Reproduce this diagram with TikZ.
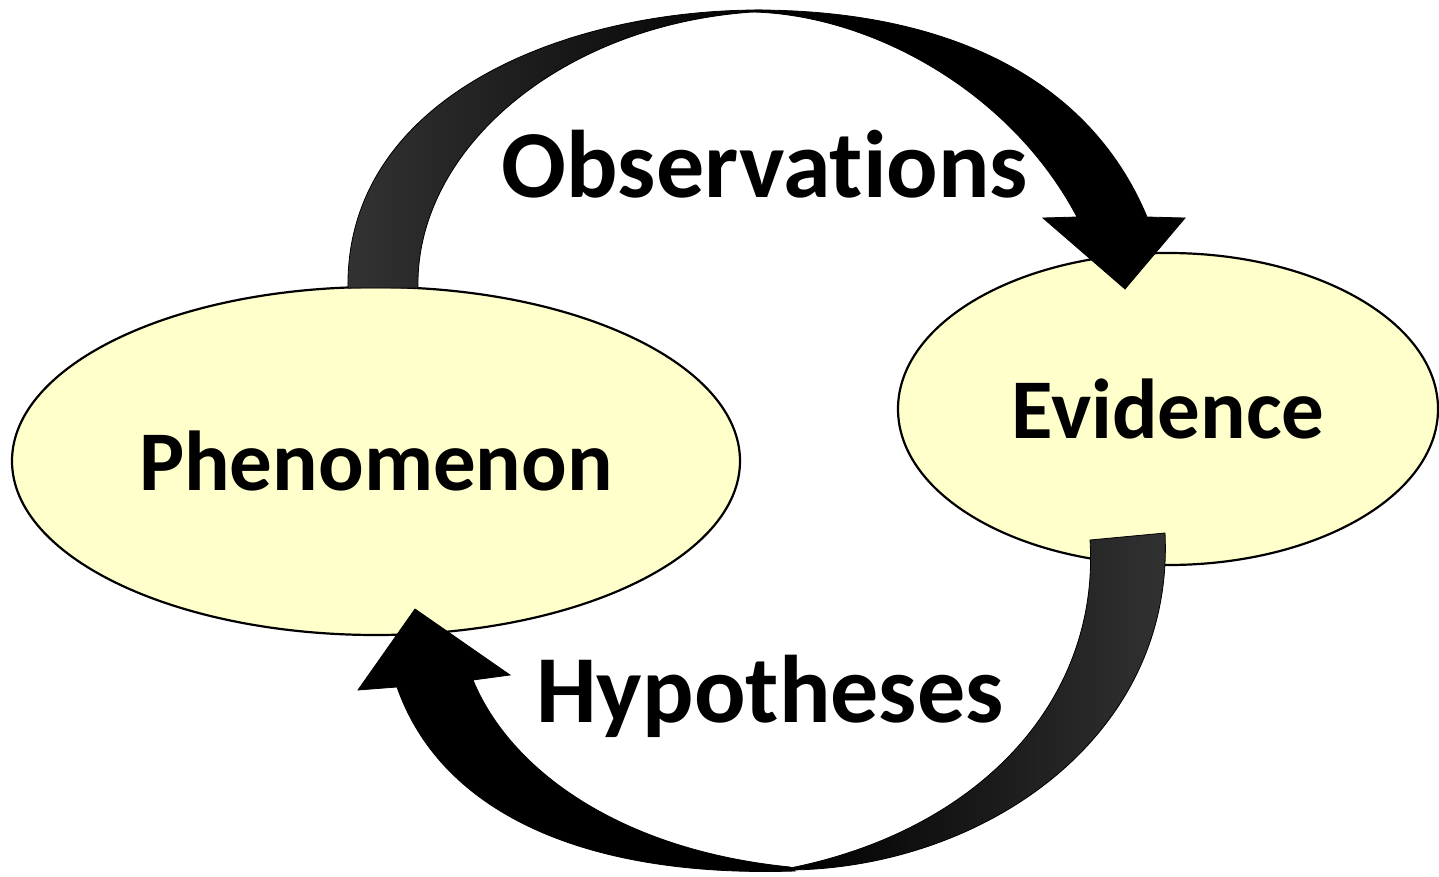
\documentclass[tikz,border=0pt]{standalone}
\usepackage{fontspec}
\setmainfont[Ligatures=NoCommon]{Carlito}
\usetikzlibrary{shapes.geometric}
\definecolor{paleyellow}{RGB}{255,255,204}
\begin{document}
\begin{tikzpicture}[x=0.5pt,y=-0.5pt,
  bubble/.style={ellipse, draw=black, line width=1.1pt, fill=paleyellow,
    inner sep=0pt, font=\fontsize{42.5}{48}\selectfont\bfseries},
  label/.style={inner sep=0pt, anchor=base, font=\fontsize{48}{54}\selectfont\bfseries},
  ribbon/.style={draw=black, line width=0.4pt},
  solidband/.style={fill=black, draw=black, line width=0.4pt}]
  \useasboundingbox (0,0) rectangle (1439,877);
  \fill[white] (0,0) rectangle (1439,877);

  % the two states
  \node[bubble, minimum width=364pt, minimum height=174pt] (phen) at (376,461) {Phenomenon};
  \node[bubble, minimum width=270pt, minimum height=156pt] (evid) at (1168,409) {Evidence};

  % upper curved arrow: rear band (shaded) and front band with head
  \path[ribbon, left color=black!80, right color=black]
    (348,288) .. controls (345,100) and (560,10) .. (760,10)
    -- (753,12) .. controls (560,25) and (415,150) .. (418,288) -- cycle;
  \path[solidband]
    (755,10) .. controls (950,10) and (1090,80) .. (1147,217)
    -- (1185,218) -- (1125,289) -- (1043,218) -- (1077,217)
    .. controls (1010,90) and (870,15) .. (753,12) -- cycle;

  % lower curved arrow: rear band (shaded) and front band with head
  \path[ribbon, left color=black, right color=black!80]
    (1165,533) .. controls (1175,740) and (980,868) .. (790,870)
    -- (790,868) .. controls (980,830) and (1100,700) .. (1090,540) -- cycle;
  \path[solidband]
    (795,871) .. controls (580,878) and (440,810) .. (397,687)
    -- (358,690) -- (415,609) -- (510,675) -- (473,680)
    .. controls (510,770) and (620,850) .. (790,867) -- cycle;

  % arrow captions
  \node[label] (obs) at (765,198) {Observations};
  \node[label] (hyp) at (770,722) {Hypotheses};
\end{tikzpicture}
\end{document}
